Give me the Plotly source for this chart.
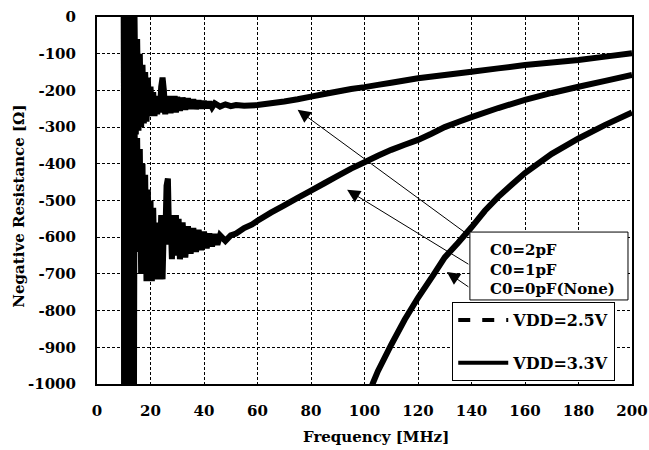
import plotly.graph_objects as go

# ---------------- data ----------------
# off-scale oscillation band near 10-14 MHz (values beyond the axis range)
band_freq = [10.0, 10.4, 10.8, 11.2, 11.6, 12.0, 12.4, 12.8, 13.2, 13.6]
band_vals = [300, -2000, 300, -2000, 300, -2000, 300, -2000, 300, -2000]

freq_2pF = [14.0, 14.5, 15.0, 15.5, 16.0, 16.5, 17.0, 17.5, 18.0, 18.5, 19.0, 19.5,
            20.0, 20.5, 21.0, 21.5, 22.0, 22.5, 23.0, 23.5, 24.0, 24.5, 25.0, 25.5,
            26.0, 26.5, 27.0, 27.5, 28.0, 28.5, 29.0, 29.5, 30.0, 31, 32, 33, 34, 35,
            36, 37, 38, 39, 40, 41, 42, 43, 44, 46, 48, 50, 52, 55, 60, 65, 70, 75,
            80, 85, 90, 95, 100, 105, 110, 115, 120, 130, 140, 150, 160, 170, 180,
            190, 200]
res_2pF = [20, -320, -60, -310, -100, -300, -130, -290, -150, -285, -165, -270,
           -190, -265, -205, -270, -215, -265, -225, -260, -190, -165, -200, -265,
           -220, -255, -215, -262, -220, -255, -215, -260, -218, -255, -220, -252,
           -222, -250, -225, -250, -228, -248, -230, -247, -232, -246, -235, -244,
           -238, -243, -240, -242, -240, -235, -230, -224, -217, -210, -203, -196,
           -191, -185, -179, -173, -167, -158, -149, -140, -131, -124, -117, -108, -99]

freq_1pF = [14.0, 14.5, 15.0, 15.5, 16.0, 16.5, 17.0, 17.5, 18.0, 18.5, 19.0, 19.5,
            20.0, 20.5, 21.0, 21.5, 22.0, 22.5, 23.0, 23.5, 24.0, 24.5, 25.0, 25.5,
            26.0, 26.5, 27.0, 27.5, 28.0, 28.5, 29.0, 29.5, 30.0, 30.5, 31, 32, 33,
            34, 35, 36, 37, 38, 39, 40, 41, 42, 43, 44, 45, 46, 48, 50, 52, 55, 58,
            60, 65, 70, 75, 80, 85, 90, 95, 100, 105, 110, 115, 120, 125, 130, 135,
            140, 150, 160, 170, 180, 190, 200]
res_1pF = [-300, -560, -330, -640, -360, -700, -400, -690, -430, -720, -470, -700,
           -500, -720, -520, -700, -560, -715, -600, -690, -540, -715, -560, -620,
           -460, -440, -620, -540, -660, -545, -630, -540, -650, -550, -660, -560,
           -655, -570, -645, -575, -640, -580, -635, -585, -630, -590, -625, -592,
           -620, -595, -610, -595, -590, -575, -565, -555, -533, -513, -493, -473,
           -453, -433, -413, -396, -378, -362, -348, -335, -318, -300, -286, -273,
           -248, -226, -207, -190, -174, -158]

freq_0pF = [14.0, 90, 100, 103, 105, 110, 115, 120, 126, 130, 135, 140, 145, 150,
            155, 160, 170, 180, 190, 200]
res_0pF = [-2000, -1300, -1080, -1000, -965, -893, -825, -765, -700, -655, -615,
           -573, -528, -490, -457, -425, -373, -331, -294, -260]

curve_names = ["C0=2pF", "C0=1pF", "C0=0pF(None)"]
legend_names = ["VDD=2.5V", "VDD=3.3V"]

x_ticks = [0, 20, 40, 60, 80, 100, 120, 140, 160, 180, 200]
x_ticktext = ["0", "20", "40", "60", "80", "100", "120", "140", "160", "180", "200"]
y_ticks = [0, -100, -200, -300, -400, -500, -600, -700, -800, -900, -1000]
y_ticktext = ["0", "-100", "-200", "-300", "-400", "-500", "-600", "-700", "-800",
              "-900", "-1000"]

# annotation arrows: (head x, head y, tail x, tail y) in data units
arrow_heads = [(75, -253), (93.5, -471), (130.8, -695)]
arrow_tails = [(139.4, -597), (139.4, -676), (139.4, -738)]

FONT = "DejaVu Serif"
BOLD = dict(family=FONT, size=15, color="black", weight="bold")

fig = go.Figure()

series = [(freq_2pF, res_2pF), (freq_1pF, res_1pF), (freq_0pF, res_0pF)]
for name, (f, r) in zip(curve_names, series):
    fig.add_trace(go.Scatter(
        x=band_freq + f, y=band_vals + r, mode="lines", name=name,
        line=dict(color="black", width=6, simplify=False), showlegend=False,
        hoverinfo="skip"))

# legend entries
fig.add_trace(go.Scatter(x=[None], y=[None], mode="lines", name=legend_names[0],
                         line=dict(color="black", width=4, dash="dash"),
                         legendgroup="a"))
fig.add_trace(go.Scatter(x=[None], y=[None], mode="lines", name=legend_names[1],
                         line=dict(color="black", width=4), legendgroup="b"))

# C0 label box
fig.add_shape(type="rect", xref="x", yref="y", x0=139.4, x1=198.5, y0=-586, y1=-771,
              fillcolor="white", line=dict(color="black", width=1), layer="above")
label_y = [-635, -689, -741]
for name, yy in zip(curve_names, label_y):
    fig.add_annotation(x=146.2, y=yy, xref="x", yref="y", text=name, showarrow=False,
                       xanchor="left", yanchor="middle", font=BOLD)

for (hx, hy), (tx, ty) in zip(arrow_heads, arrow_tails):
    fig.add_annotation(x=hx, y=hy, ax=tx, ay=ty, xref="x", yref="y", axref="x",
                       ayref="y", text="", showarrow=True, arrowhead=2,
                       arrowsize=2.6, arrowwidth=1, arrowcolor="black", standoff=0)

# axis titles
fig.add_annotation(text="Frequency [MHz]", xref="paper", yref="paper", x=0.5215,
                   y=-0.1444, xanchor="center", yanchor="middle", showarrow=False,
                   font=BOLD)
fig.add_annotation(text="Negative Resistance [Ω]", xref="paper", yref="paper",
                   x=-0.1458, y=0.486, xanchor="center", yanchor="middle",
                   textangle=-90, showarrow=False, font=BOLD)

axis_common = dict(
    showline=True, linecolor="black", linewidth=2, mirror=True,
    showgrid=True, gridcolor="black", gridwidth=1, griddash="3px,2px",
    zeroline=False, ticks="", automargin=False,
    tickfont=BOLD,
)

fig.update_xaxes(range=[0, 200], tickvals=x_ticks, ticktext=x_ticktext,
                 ticklabelstandoff=12, **axis_common)
fig.update_yaxes(range=[-1000, 0], tickvals=y_ticks, ticktext=y_ticktext,
                 ticklabelstandoff=16, **axis_common)

fig.update_layout(
    width=649, height=450,
    margin=dict(l=97, r=17, t=17, b=66, autoexpand=False),
    plot_bgcolor="white", paper_bgcolor="white",
    showlegend=True,
    legend=dict(x=0.664, y=0.2234, xanchor="left", yanchor="top",
                bgcolor="white", bordercolor="black", borderwidth=1,
                tracegroupgap=19, traceorder="grouped", itemwidth=50,
                font=dict(family=FONT, size=16, color="black", weight="bold")),
)

# remove the default page margin so the 649x450 figure fills the window exactly
fig.write_html("out.html",
               config={"displayModeBar": False},
               post_script="document.body.style.margin='0';"
                           "document.body.style.overflow='hidden';")
